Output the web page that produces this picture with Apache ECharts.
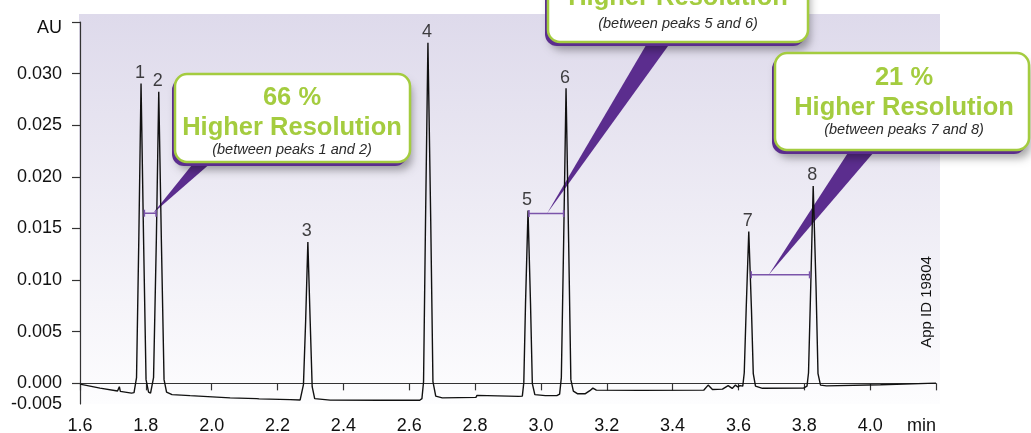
<!DOCTYPE html>
<html><head><meta charset="utf-8">
<style>html,body{margin:0;padding:0;background:#fff}#c{width:1031px;height:433px}</style>
<script src="https://cdn.jsdelivr.net/npm/echarts@6/dist/echarts.min.js"></script>
</head><body><div id="c"></div>
<script>
// ---- data ----
const traceTime = [1.6000,1.6608,1.7140,1.7195,1.7225,1.7565,1.7641,1.7717,1.7787,1.7854,1.7930,1.8006,1.8082,1.8143,1.8234,1.8319,1.8392,1.8471,1.8553,1.8629,1.8796,1.9343,2.0559,2.1365,2.1401,2.1441,2.2383,2.2687,2.2739,2.2787,2.2854,2.2921,2.2991,2.3052,2.3128,2.3599,2.5119,2.6319,2.6386,2.6435,2.6495,2.6568,2.6653,2.6720,2.6805,2.7003,2.8027,2.8058,2.8097,2.9328,2.9435,2.9480,2.9532,2.9608,2.9684,2.9739,2.9815,3.0134,3.0483,3.0568,3.0620,3.0690,3.0763,3.0842,3.0909,3.0985,3.1106,3.1350,3.1486,3.1578,3.1684,3.3021,3.4945,3.5079,3.5210,3.5514,3.5687,3.5809,3.5909,3.5979,3.6046,3.6131,3.6176,3.6234,3.6313,3.6395,3.6450,3.6517,3.6729,3.7976,3.8082,3.8128,3.8195,3.8270,3.8356,3.8416,3.8492,3.8675,4.0316,4.2000];
const traceAU = [-0.00008,-0.00046,-0.00074,-0.00032,-0.00078,-0.00095,-0.00090,0.00055,0.01409,0.02905,0.01409,0.00036,-0.00085,-0.00095,0.00055,0.01390,0.02824,0.01390,0.00036,-0.00085,-0.00109,-0.00119,-0.00141,-0.00148,-0.00133,-0.00150,-0.00158,-0.00161,-0.00143,-0.00013,0.00606,0.01370,0.00606,-0.00032,-0.00148,-0.00162,-0.00164,-0.00164,-0.00148,0.00016,0.01574,0.03298,0.01574,0.00016,-0.00124,-0.00141,-0.00136,-0.00116,-0.00134,-0.00126,-0.00124,0.00007,0.00771,0.01673,0.00771,-0.00003,-0.00109,-0.00119,-0.00119,-0.00104,0.00055,0.01370,0.02857,0.01370,0.00036,-0.00075,-0.00100,-0.00100,-0.00071,-0.00046,-0.00066,-0.00068,-0.00066,-0.00017,-0.00059,-0.00056,-0.00022,-0.00049,-0.00017,-0.00035,-0.00022,-0.00027,0.00103,0.00713,0.01470,0.00713,0.00094,-0.00027,-0.00048,-0.00046,-0.00027,0.00103,0.00935,0.01912,0.00935,0.00094,-0.00017,-0.00024,-0.00013,0.00002];

const peakNumbers = ['1','2','3','4','5','6','7','8'];
const peakTimes   = [1.7854,1.8392,2.2921,2.6568,2.9608,3.0763,3.6313,3.8270];
const peakHeights = [0.02905,0.02824,0.01370,0.03298,0.01673,0.02857,0.01470,0.01912];

const resStart = [1.7954, 2.9637, 3.6386];
const resEnd   = [1.8310, 3.0690, 3.8161];
const resLevel = [0.01648, 0.01644, 0.01051];
const tipTime  = [1.8219, 3.0185, 3.6921];

const calloutPercent = ['66 %', '', '21 %'];
const calloutTitle = ['Higher Resolution', 'Higher Resolution', 'Higher Resolution'];
const calloutNote = ['(between peaks 1 and 2)', '(between peaks 5 and 6)', '(between peaks 7 and 8)'];
const appIdText = 'App ID 19804';

const xTickValues = [1.6,1.8,2.0,2.2,2.4,2.6,2.8,3.0,3.2,3.4,3.6,3.8,4.0,4.2];
const xTickLabels = ['1.6','1.8','2.0','2.2','2.4','2.6','2.8','3.0','3.2','3.4','3.6','3.8','4.0','min'];
const yTickValues = [-0.002,0,0.005,0.010,0.015,0.020,0.025,0.030,0.035];
const yTickLabels = ['-0.005','0.000','0.005','0.010','0.015','0.020','0.025','0.030','AU'];

// ---- chart ----
const FONT = "'Liberation Sans', Arial, Helvetica, sans-serif";
const PURPLE = '#5b2d8e';
const MARK = '#7b54aa';
const GREEN = '#a4cc3f';
const TXT = '#111111';

function lookup(vals, labels, v) {
  for (let i = 0; i < vals.length; i++) if (Math.abs(vals[i] - v) < 1e-9) return labels[i];
  return '';
}

const chart = echarts.init(document.getElementById('c'), null, {renderer: 'canvas'});

const series = [];
series.push({
  type: 'line', data: traceTime.map((t, i) => [t, traceAU[i]]),
  symbol: 'none', lineStyle: {color: '#111', width: 1.4}, z: 3, silent: true, animation: false
});
series.push({
  type: 'scatter', data: peakTimes.map((t, i) => [t, peakHeights[i]]),
  symbolSize: 1, itemStyle: {color: 'rgba(0,0,0,0)'}, z: 4, silent: true,
  label: {show: true, position: 'top', distance: 1, formatter: p => peakNumbers[p.dataIndex],
          fontFamily: FONT, fontSize: 18, color: TXT, offset: [-1, 0]}
});
for (let i = 0; i < resStart.length; i++) {
  series.push({
    type: 'line', data: [[resStart[i], resLevel[i]], [resEnd[i], resLevel[i]]],
    symbol: 'rect', symbolSize: [1.6, 7], showSymbol: true, z: 5, silent: true,
    itemStyle: {color: MARK}, lineStyle: {color: MARK, width: 1.5}
  });
}

chart.setOption({
  animation: false,
  backgroundColor: '#ffffff',
  grid: {left: 80, right: 95, top: 22, bottom: 29, containLabel: false, outerBoundsMode: 'none'},
  xAxis: {
    type: 'value', min: 1.6, max: 4.2, interval: 0.2,
    axisLine: {lineStyle: {color: '#333', width: 1.2}},
    axisTick: {length: 7, lineStyle: {color: '#333', width: 1.2}, customValues: xTickValues},
    axisLabel: {customValues: xTickValues, formatter: v => lookup(xTickValues, xTickLabels, v),
                fontFamily: FONT, fontSize: 18, color: TXT, margin: 13, alignMaxLabel: 'right'},
    splitLine: {show: false}
  },
  yAxis: {
    type: 'value', min: -0.002, max: 0.035,
    axisLine: {show: true, lineStyle: {color: '#333', width: 1.2}},
    axisTick: {show: true, length: 8, lineStyle: {color: '#333', width: 1.2}, customValues: yTickValues.slice(1)},
    axisLabel: {customValues: yTickValues,
                formatter: v => { const s = lookup(yTickValues, yTickLabels, v); return s === 'AU' ? '{au|AU}' : s; },
                rich: {au: {fontFamily: FONT, fontSize: 18, color: TXT, padding: [12, 0, 0, 0]}},
                fontFamily: FONT, fontSize: 18, color: TXT, margin: 18},
    splitLine: {show: false}
  },
  series: series
});

// ---- decorations (background, callouts, App ID) ----
const g = [];
g.push({
  type: 'rect', z: -10, silent: true,
  shape: {x: 79, y: 14, width: 861, height: 390},
  style: {fill: new echarts.graphic.LinearGradient(0, 0, 0, 1, [
    {offset: 0, color: '#dedaeb'}, {offset: 1, color: '#fdfdfe'}])}
});

const callouts = [
  {box: [175, 74, 235, 88], cx: 292, pY: 98, tY: 128, nY: 150, base: [[200, 155], [220, 155]]},
  {box: [548, -60, 260, 102], cx: 678, pY: -32, tY: -2, nY: 24, base: [[652, 35], [676, 35]]},
  {box: [775, 53, 254, 97], cx: 904, pY: 78, tY: 108, nY: 130, base: [[853, 145], [880, 145]]}
];
callouts.forEach((c, i) => {
  const tip = chart.convertToPixel({gridIndex: 0}, [tipTime[i], resLevel[i]]);
  g.push({type: 'polygon', z: 1, silent: true,
          shape: {points: [c.base[0], c.base[1], tip]}, style: {fill: PURPLE}});
  const [x, y, w, h] = c.box;
  g.push({type: 'rect', z: 50, silent: true, shape: {x: x - 3, y: y + 4, width: w, height: h, r: 12},
          style: {fill: PURPLE, shadowBlur: 8, shadowColor: 'rgba(0,0,0,0.35)', shadowOffsetX: 5, shadowOffsetY: 4}});
  g.push({type: 'rect', z: 51, silent: true, shape: {x: x, y: y, width: w, height: h, r: 12},
          style: {fill: '#ffffff', stroke: GREEN, lineWidth: 2.5}});
  if (calloutPercent[i]) {
    g.push({type: 'text', z: 52, silent: true, x: c.cx, y: c.pY,
            style: {text: calloutPercent[i], font: 'bold 25.5px ' + FONT, fill: GREEN, align: 'center', verticalAlign: 'middle'}});
  }
  g.push({type: 'text', z: 52, silent: true, x: c.cx, y: c.tY,
          style: {text: calloutTitle[i], font: 'bold 25.5px ' + FONT, fill: GREEN, align: 'center', verticalAlign: 'middle'}});
  g.push({type: 'text', z: 52, silent: true, x: c.cx, y: c.nY,
          style: {text: calloutNote[i], font: 'italic 14.5px ' + FONT, fill: '#2a2a2a', align: 'center', verticalAlign: 'middle'}});
});

g.push({type: 'text', z: 6, silent: true, x: 927, y: 302, rotation: Math.PI / 2,
        style: {text: appIdText, font: '15px ' + FONT, fill: TXT, align: 'center', verticalAlign: 'middle'}});

chart.setOption({graphic: g});
</script>
</body></html>
